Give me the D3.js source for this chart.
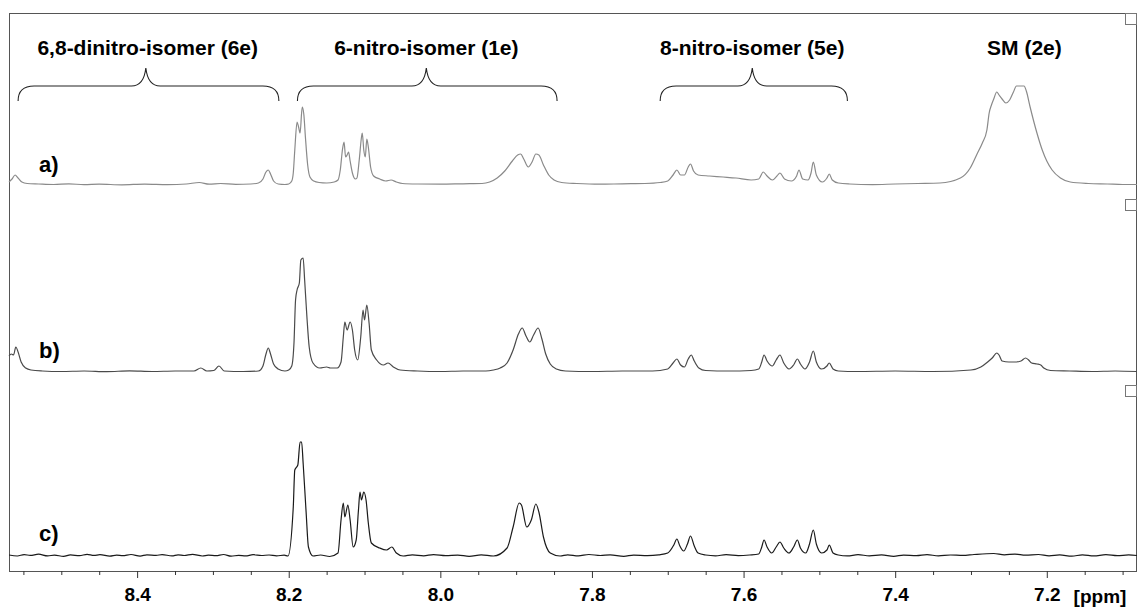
<!DOCTYPE html>
<html>
<head>
<meta charset="utf-8">
<script src="https://cdn.jsdelivr.net/npm/d3@7"></script>
<style>
  html, body { margin: 0; padding: 0; background: #fff; }
  svg { display: block; }
  text { font-family: "Liberation Sans", Arial, sans-serif; font-weight: bold; fill: #000; }
</style>
</head>
<body>
<svg id="chart" width="1142" height="612"></svg>
<script>
// ---------- data (ppm, intensity) ----------
const traceLabels = ["a)", "b)", "c)"];
const groupLabels = ["6,8-dinitro-isomer (6e)", "6-nitro-isomer (1e)", "8-nitro-isomer (5e)", "SM (2e)"];
const groupCenters = [8.386, 8.0185, 7.5885, 7.2295];        // ppm of label centres
const bracketStart = [8.557, 8.1885, 7.710];                  // ppm
const bracketEnd   = [8.213, 7.846, 7.463];                   // ppm
const bracketTip   = [8.3885, 8.0185, 7.5885];                // ppm
const majorTicks = [8.4, 8.2, 8.0, 7.8, 7.6, 7.4, 7.2];
const majorTickLabels = ["8.4", "8.2", "8.0", "7.8", "7.6", "7.4", "7.2"];
const minorTicks = [8.55, 8.50, 8.45, 8.35, 8.30, 8.25, 8.15, 8.10, 8.05, 7.95, 7.90, 7.85,
                    7.75, 7.70, 7.65, 7.55, 7.50, 7.45, 7.35, 7.30, 7.25, 7.15, 7.10];
const unitLabel = "[ppm]";

const spectrumA = [
[8.569,3],[8.565,6],[8.561,10],[8.557,7],[8.552,3],[8.545,1.5],[8.530,1],[8.510,0.5],[8.490,1.2],[8.470,0.3],
[8.450,0.8],[8.420,0.2],[8.390,0.9],[8.360,0.4],[8.335,1],[8.318,2.5],[8.305,0.8],[8.290,1.5],[8.270,0.6],[8.250,1],
[8.240,2],[8.234,6],[8.230,13],[8.227,15],[8.224,11],[8.220,4],[8.214,1],[8.205,0.5],[8.200,1],[8.196,4],
[8.194,12],[8.192,35],[8.189,63],[8.187,58],[8.185,52],[8.183,72],[8.182,78],[8.180,70],[8.178,48],[8.175,20],
[8.172,8],[8.167,4],[8.160,2.5],[8.150,2],[8.140,3],[8.135,5],[8.132,15],[8.129,36],[8.127,43],[8.125,28],
[8.123,30],[8.121,33],[8.119,24],[8.116,12],[8.112,6],[8.110,7],[8.107,25],[8.104,48],[8.103,52],[8.101,35],
[8.099,28],[8.097,46],[8.095,38],[8.092,18],[8.088,9],[8.080,6],[8.072,4],[8.065,5],[8.058,3],[8.050,1.5],
[8.030,1],[8.000,0.8],[7.970,1.2],[7.945,1.5],[7.935,3],[7.925,7],[7.915,14],[7.905,24],[7.898,30],[7.894,31],
[7.890,26],[7.884,18],[7.879,23],[7.874,31],[7.870,30],[7.864,20],[7.857,10],[7.850,5],[7.840,2.5],[7.820,1.5],
[7.790,0.8],[7.760,1.2],[7.730,1.5],[7.710,2.5],[7.700,4],[7.693,10],[7.688,15],[7.683,10],[7.678,10],[7.673,18],
[7.670,21],[7.666,14],[7.660,10],[7.645,9],[7.627,8],[7.610,7],[7.590,5],[7.580,6],[7.574,13],[7.569,9],
[7.562,5],[7.556,9],[7.552,12],[7.546,6],[7.537,4],[7.530,9],[7.527,15],[7.522,6],[7.515,5],[7.511,12],
[7.508,23],[7.504,10],[7.496,3],[7.490,7],[7.487,11],[7.483,5],[7.475,2],[7.460,1],[7.430,0.4],[7.400,1],
[7.370,1.5],[7.341,2],[7.314,7],[7.301,17],[7.292,31],[7.285,42],[7.279,55],[7.276,72],[7.273,80],[7.270,86],
[7.266,93],[7.263,90],[7.259,86],[7.254,82],[7.249,85],[7.244,93],[7.240,99],[7.235,99],[7.230,99],[7.227,94],
[7.222,78],[7.213,52],[7.206,35],[7.200,24],[7.193,15],[7.182,7],[7.169,3],[7.145,1.5],[7.120,1],[7.100,0.5],
[7.081,0.5]
];

const spectrumB = [
[8.569,16],[8.566,18],[8.563,17],[8.560,25],[8.557,20],[8.553,10],[8.547,4],[8.540,2],[8.525,1],[8.500,0.5],
[8.470,1],[8.440,0.4],[8.410,1.1],[8.380,0.5],[8.350,1],[8.325,1],[8.316,4],[8.308,1],[8.299,1.5],[8.292,6],
[8.285,1],[8.260,0.5],[8.240,1],[8.234,6],[8.230,18],[8.227,24],[8.224,18],[8.220,8],[8.214,3],[8.205,1],
[8.200,2],[8.196,6],[8.193,30],[8.191,72],[8.189,82],[8.186,89],[8.184,112],[8.181,114],[8.179,92],[8.176,55],
[8.173,25],[8.168,9],[8.159,4],[8.150,5],[8.145,4],[8.136,4],[8.131,10],[8.128,35],[8.126,50],[8.123,42],
[8.119,50],[8.116,42],[8.113,22],[8.109,12],[8.105,35],[8.102,62],[8.100,52],[8.097,67],[8.094,49],[8.091,22],
[8.084,12],[8.075,7],[8.069,9],[8.062,5],[8.053,2],[8.030,1],[8.000,0.5],[7.970,1],[7.940,1],[7.930,2],
[7.921,4],[7.912,9],[7.904,22],[7.897,38],[7.892,44],[7.887,36],[7.882,30],[7.877,37],[7.871,44],[7.866,33],
[7.861,18],[7.855,8],[7.847,3],[7.835,1],[7.800,0.5],[7.760,1],[7.720,1],[7.700,3],[7.693,9],[7.688,13],
[7.683,7],[7.678,5],[7.673,13],[7.669,17],[7.665,11],[7.659,4],[7.650,1.5],[7.620,1],[7.590,1.5],[7.580,3],
[7.576,10],[7.573,17],[7.569,11],[7.562,6],[7.557,12],[7.552,17],[7.547,9],[7.540,3],[7.534,7],[7.529,13],
[7.525,8],[7.519,3],[7.513,10],[7.508,21],[7.504,10],[7.497,3],[7.490,6],[7.487,9],[7.482,3],[7.475,1],
[7.450,0.5],[7.400,1],[7.350,0.5],[7.300,2],[7.287,5],[7.278,10],[7.272,14],[7.266,19],[7.263,17],[7.259,11],
[7.250,10],[7.242,10],[7.234,11],[7.228,14],[7.224,12],[7.220,9],[7.213,8],[7.208,7],[7.204,4],[7.195,1.5],
[7.170,1],[7.140,0.5],[7.110,1],[7.081,0.5]
];

const spectrumC = [
[8.569,1],[8.558,0],[8.549,1.4],[8.541,0.6],[8.530,1.8],[8.518,0.1],[8.509,0.9],[8.497,-0.4],[8.488,1.1],[8.476,0.3],
[8.466,1.7],[8.457,0.6],[8.449,1.3],[8.436,-0.2],[8.427,0.8],[8.419,0.3],[8.408,1.5],[8.396,-0.1],[8.387,1.2],[8.375,0.6],
[8.367,1.4],[8.354,0.1],[8.346,1.2],[8.338,0.5],[8.327,1.6],[8.314,0],[8.306,0.9],[8.296,0.4],[8.286,1.5],[8.276,-0.2],
[8.266,0.7],[8.257,0.1],[8.247,1.3],[8.236,0.5],[8.226,1],[8.216,0.2],[8.206,0.8],[8.201,0],[8.194,49],[8.192,86],
[8.188,91],[8.185,114],[8.183,114],[8.181,93],[8.177,43],[8.174,9],[8.168,0],[8.158,1],[8.146,-0.5],[8.135,3],
[8.131,36],[8.128,53],[8.126,39],[8.122,51],[8.119,36],[8.115,9],[8.111,16],[8.108,46],[8.106,64],[8.104,56],
[8.101,64],[8.098,56],[8.095,33],[8.091,13],[8.080,8],[8.071,6],[8.064,9],[8.058,3],[8.049,0],[8.037,1.1],
[8.022,0.2],[8.009,1.4],[7.993,0.4],[7.977,0.9],[7.962,-0.3],[7.946,1.1],[7.930,0],[7.912,8],[7.904,29],[7.896,53],
[7.893,51],[7.886,29],[7.880,36],[7.874,52],[7.870,44],[7.864,19],[7.855,3],[7.842,0],[7.832,1.2],[7.818,0.1],
[7.804,1.5],[7.789,0.5],[7.776,1.2],[7.758,-0.3],[7.745,0.9],[7.727,0.4],[7.712,1.2],[7.700,3],[7.692,11],[7.688,17],
[7.684,10],[7.679,5],[7.674,12],[7.670,20],[7.665,10],[7.660,3],[7.650,1],[7.637,0.2],[7.623,1.3],[7.607,0.4],
[7.592,1],[7.580,2],[7.576,9],[7.573,16],[7.569,9],[7.563,3],[7.557,9],[7.552,14],[7.547,8],[7.540,3],
[7.534,9],[7.529,16],[7.525,8],[7.518,3],[7.513,12],[7.508,26],[7.504,12],[7.497,3],[7.490,6],[7.487,11],
[7.482,3],[7.475,1],[7.463,0.1],[7.449,1.3],[7.434,0.2],[7.418,1.1],[7.402,-0.3],[7.389,0.9],[7.372,0.4],[7.358,1.4],
[7.343,0.1],[7.327,1],[7.311,0.6],[7.296,1.5],[7.270,2.5],[7.256,1.2],[7.242,1.9],[7.228,0.8],[7.211,1.5],[7.197,0.2],
[7.183,1.1],[7.167,-0.2],[7.153,1.2],[7.138,0.1],[7.122,1.3],[7.107,0.3],[7.092,1.1],[7.081,0.5]
];

// ---------- layout ----------
const frame = { left: 9, right: 1137, top: 13, bottom: 571 };
const svg = d3.select("#chart");

const x = d3.scaleLinear().domain([8.569, 7.081]).range([frame.left, frame.right]);

const traces = [
  { data: spectrumA, label: traceLabels[0], base: 185, color: "#8a8a8a", labelY: 164 },
  { data: spectrumB, label: traceLabels[1], base: 372, color: "#4a4a4a", labelY: 350 },
  { data: spectrumC, label: traceLabels[2], base: 556, color: "#1a1a1a", labelY: 533 }
];

// frame
svg.append("rect")
  .attr("x", frame.left + 0.5).attr("y", frame.top + 0.5)
  .attr("width", frame.right - frame.left - 1).attr("height", frame.bottom - frame.top)
  .attr("fill", "none").attr("stroke", "#555").attr("stroke-width", 1);

// spectra
traces.forEach(t => {
  const y = d3.scaleLinear().domain([0, 100]).range([t.base, t.base - 100]);
  const line = d3.line().x(d => x(d[0])).y(d => y(d[1])).curve(d3.curveMonotoneX);
  svg.append("path").datum(t.data)
    .attr("d", line).attr("fill", "none")
    .attr("stroke", t.color).attr("stroke-width", 1.2).attr("stroke-linejoin", "round");
  svg.append("text").attr("x", 39).attr("y", t.labelY).attr("dy", "0.35em")
    .attr("font-size", 22).text(t.label);
});

// small boxes on right edge
[13, 199, 385].forEach(yy => {
  svg.append("rect").attr("x", 1125.5).attr("y", yy + 0.5).attr("width", 11).attr("height", 11)
    .attr("fill", "#fff").attr("stroke", "#777").attr("stroke-width", 1);
});

// axis ticks
const axisMinor = d3.axisBottom(x).tickValues(minorTicks).tickSize(4).tickFormat("");
const axisMajor = d3.axisBottom(x).tickValues(majorTicks).tickSize(7).tickPadding(10)
  .tickFormat((d, i) => majorTickLabels[i]);
const gMinor = svg.append("g").attr("transform", `translate(0,${frame.bottom})`).call(axisMinor);
const gMajor = svg.append("g").attr("transform", `translate(0,${frame.bottom})`).call(axisMajor);
[gMinor, gMajor].forEach(g => {
  g.select(".domain").remove();
  g.selectAll("line").attr("stroke", "#333");
});
gMajor.selectAll("text").attr("font-size", 19).attr("fill", "#000")
  .style("font-family", '"Liberation Sans", Arial, sans-serif').style("font-weight", "bold");
svg.append("text").attr("x", 1100).attr("y", 596).attr("dy", "0.35em").attr("text-anchor", "middle")
  .attr("font-size", 19).text(unitLabel);

// group labels
groupLabels.forEach((lab, i) => {
  svg.append("text").attr("x", x(groupCenters[i])).attr("y", 48).attr("dy", "0.35em")
    .attr("text-anchor", "middle").attr("font-size", 21).text(lab);
});

// curly brackets
const yEnd = 101, yMid = 86, yTip = 68;
bracketStart.forEach((s, i) => {
  const x0 = x(s), x1 = x(bracketEnd[i]), xc = x(bracketTip[i]);
  const r = 16, rt = 9;
  const p = d3.path();
  p.moveTo(x0, yEnd);
  p.quadraticCurveTo(x0, yMid, x0 + r, yMid);
  p.lineTo(xc - rt * 1.6, yMid);
  p.quadraticCurveTo(xc - 2, yMid, xc, yTip);
  p.quadraticCurveTo(xc + 2, yMid, xc + rt * 1.6, yMid);
  p.lineTo(x1 - r, yMid);
  p.quadraticCurveTo(x1, yMid, x1, yEnd);
  svg.append("path").attr("d", p.toString()).attr("fill", "none")
    .attr("stroke", "#222").attr("stroke-width", 1.1);
});
</script>
</body>
</html>
